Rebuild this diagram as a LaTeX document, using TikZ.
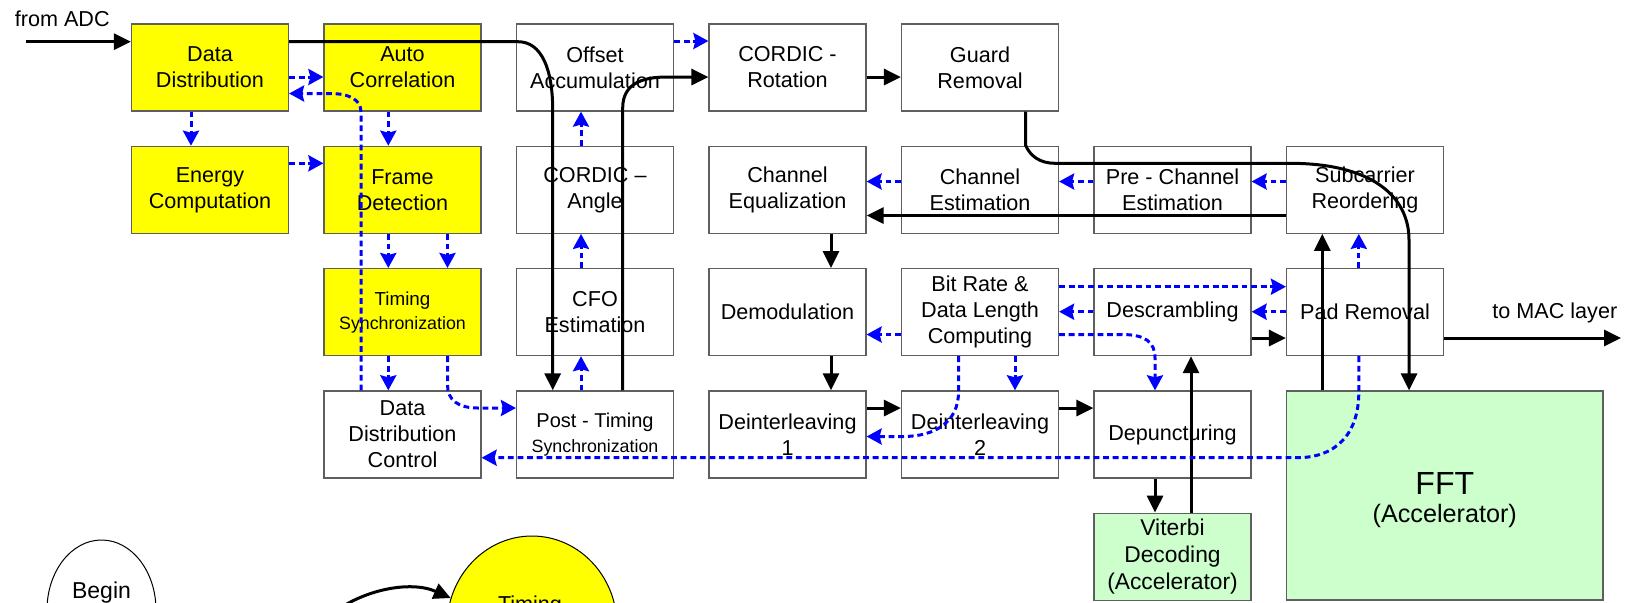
\documentclass[tikz,border=0pt]{standalone}
\usepackage{fontspec}
\setmainfont{Liberation Sans}
\usetikzlibrary{arrows.meta,shapes.geometric}
\definecolor{boxyellow}{RGB}{255,255,0}
\definecolor{accgreen}{RGB}{204,255,204}
\definecolor{flowblue}{RGB}{0,0,255}
\definecolor{edgegray}{RGB}{95,95,95}
\begin{document}
\begin{tikzpicture}[x=0.5pt,y=-0.5pt,
  blk/.style={draw=edgegray, line width=0.6pt, fill=white,
    minimum width=78.5pt, minimum height=43.5pt, inner sep=0pt,
    align=center, font=\fontsize{10.8}{13}\selectfont},
  yel/.style={fill=boxyellow},
  acc/.style={fill=accgreen},
  dataflow/.style={draw=black, line width=1.5pt,
    -{Triangle[length=8.5pt,width=8pt]}},
  ctrlflow/.style={draw=flowblue, line width=1.5pt,
    dash pattern=on 2.9pt off 1.9pt,
    -{Stealth[length=7.5pt,width=8pt,inset=1pt]}},
  lbl/.style={font=\fontsize{10.8}{13}\selectfont, inner sep=0pt}]
\useasboundingbox (0,0) rectangle (1627,602);
\clip (0,0) rectangle (1627,602);

% ---- processing blocks ----
\node[blk,yel] (dd)  at (210,67.5)    {Data\\Distribution};
\node[blk,yel] (ac)  at (402.5,67.5)  {Auto\\Correlation};
\node[blk]     (oa)  at (595,67.5)    {Offset\\Accumulation};
\node[blk]     (cr)  at (787.5,67.5)  {CORDIC -\\Rotation};
\node[blk]     (gr)  at (980,67.5)    {Guard\\Removal};

\node[blk,yel] (ec)  at (210,189.8)   {Energy\\Computation};
\node[blk,yel] (fd)  at (402.5,189.8) {Frame\\Detection};
\node[blk]     (ca)  at (595,189.8)   {CORDIC --\\Angle};
\node[blk]     (ceq) at (787.5,189.8) {Channel\\Equalization};
\node[blk]     (ces) at (980,189.8)   {Channel\\Estimation};
\node[blk]     (pce) at (1172.5,189.8){Pre - Channel\\Estimation};
\node[blk]     (sr)  at (1365,189.8)  {Subcarrier\\Reordering};

\node[blk,yel,font=\fontsize{9.4}{12}\selectfont] (ts) at (402.5,312.1)
  {Timing\\{\fontsize{8.9}{12}\selectfont Synchronization}};
\node[blk]     (cfo) at (595,312.1)   {CFO\\Estimation};
\node[blk]     (dm)  at (787.5,312.1) {Demodulation};
\node[blk]     (br)  at (980,312.1)   {Bit Rate \&\\Data Length\\Computing};
\node[blk]     (ds)  at (1172.5,312.1){Descrambling};
\node[blk]     (pr)  at (1365,312.1)  {Pad Removal};

\node[blk]     (ddc) at (402.5,434.4) {Data\\Distribution\\Control};
\node[blk,font=\fontsize{10}{12.5}\selectfont] (pts) at (595,434.4)
  {Post - Timing\\{\fontsize{8.9}{12.5}\selectfont Synchronization}};
\node[blk]     (di1) at (787.5,434.4) {Deinterleaving\\1};
\node[blk]     (di2) at (980,434.4)   {Deinterleaving\\2};
\node[blk]     (dp)  at (1172.5,434.4){Depuncturing};

\node[blk,acc,font=\fontsize{11.4}{13.4}\selectfont] (vd) at (1172.5,556.7)
  {Viterbi\\Decoding\\(Accelerator)};
\node[blk,acc,minimum width=158.25pt,minimum height=104.5pt] (fft) at (1444.75,495.5) {};
\node[align=center, inner sep=0pt] (fftlbl) at (1444.75,500)
  {{\fontsize{16}{19}\selectfont FFT}\\[2pt]{\fontsize{12.6}{15}\selectfont (Accelerator)}};

% ---- outside labels ----
\node[lbl,anchor=base west] (fromadc) at (14.5,26.5) {from ADC};
\node[lbl,anchor=base west] (tomac) at (1492,318) {to MAC layer};

% ---- routing levels ----
\coordinate (hA) at (0,41.7);
\coordinate (hB) at (0,41);
\coordinate (hC) at (0,77);
\coordinate (hD) at (0,93.5);
\coordinate (hE) at (0,163.3);
\coordinate (hF) at (0,181.5);
\coordinate (hG) at (0,215.5);
\coordinate (hH) at (0,286.7);
\coordinate (hI) at (0,311.7);
\coordinate (hJ) at (0,334.5);
\coordinate (hK) at (0,338);
\coordinate (hL) at (0,408);
\coordinate (hM) at (0,436.5);
\coordinate (hN) at (0,457.7);
\coordinate (vA) at (191,0);
\coordinate (vB) at (361,0);
\coordinate (vC) at (388.3,0);
\coordinate (vD) at (447.5,0);
\coordinate (vE) at (552.7,0);
\coordinate (vF) at (581,0);
\coordinate (vG) at (622.7,0);
\coordinate (vH) at (831,0);
\coordinate (vI) at (958.5,0);
\coordinate (vJ) at (1015,0);
\coordinate (vK) at (1025.5,0);
\coordinate (vM) at (1155,0);
\coordinate (vN) at (1191,0);
\coordinate (vO) at (1322.3,0);
\coordinate (vP) at (1358.8,0);
\coordinate (vQ) at (1409,0);
\coordinate (adcin) at (26,41.7);
\coordinate (macout) at (1621,338);

% ---- data path (solid) ----
\draw[dataflow] (adcin) -- (dd.west |- hA);
\draw[dataflow] (dd.east |- hA) -- (518,41.7)
  .. controls (542,41.7) and (552.7,70) .. (552.7,110) -- (vE |- pts.north);
\draw[dataflow] (vG |- pts.north) -- (622.7,108)
  .. controls (622.7,85) and (640,77) .. (667,77) -- (cr.west |- hC);
\draw[dataflow] (cr.east |- hC) -- (gr.west |- hC);
\draw[dataflow] (vK |- gr.south) -- (1025.5,145)
  .. controls (1030,156) and (1040,163.3) .. (1055,163.3) -- (1290,163.3)
  .. controls (1370,163.3) and (1409,195) .. (1409,240) -- (vQ |- fft.north);
\draw[dataflow] (sr.west |- hG) -- (ceq.east |- hG);
\draw[dataflow] (vH |- ceq.south) -- (vH |- dm.north);
\draw[dataflow] (vH |- dm.south) -- (vH |- di1.north);
\draw[dataflow] (di1.east |- hL) -- (di2.west |- hL);
\draw[dataflow] (di2.east |- hL) -- (dp.west |- hL);
\draw[dataflow] (vM |- dp.south) -- (vM |- vd.north);
\draw[dataflow] (vN |- vd.north) -- (vN |- ds.south);
\draw[dataflow] (ds.east |- hK) -- (pr.west |- hK);
\draw[dataflow] (vO |- fft.north) -- (vO |- sr.south);
\draw[dataflow] (pr.east |- hK) -- (macout);

% ---- control path (dashed) ----
\draw[ctrlflow] (dd.east |- hC) -- (ac.west |- hC);
\draw[ctrlflow] (vB |- ddc.north) -- (361,112)
  .. controls (361,100) and (350,93.5) .. (330,93.5) -- (dd.east |- hD);
\draw[ctrlflow] (vA |- dd.south) -- (vA |- ec.north);
\draw[ctrlflow] (vC |- ac.south) -- (vC |- fd.north);
\draw[ctrlflow] (ec.east |- hE) -- (fd.west |- hE);
\draw[ctrlflow] (vC |- fd.south) -- (vC |- ts.north);
\draw[ctrlflow] (vD |- fd.south) -- (vD |- ts.north);
\draw[ctrlflow] (vC |- ts.south) -- (vC |- ddc.north);
\draw[ctrlflow] (vD |- ts.south) -- (447.5,385)
  .. controls (447.5,400) and (458,408) .. (478,408) -- (pts.west |- hL);
\draw[ctrlflow] (vF |- pts.north) -- (vF |- cfo.south);
\draw[ctrlflow] (vF |- cfo.north) -- (vF |- ca.south);
\draw[ctrlflow] (vF |- ca.north) -- (vF |- oa.south);
\draw[ctrlflow] (oa.east |- hB) -- (cr.west |- hB);
\draw[ctrlflow] (ces.west |- hF) -- (ceq.east |- hF);
\draw[ctrlflow] (pce.west |- hF) -- (ces.east |- hF);
\draw[ctrlflow] (sr.west |- hF) -- (pce.east |- hF);
\draw[ctrlflow] (vP |- pr.north) -- (vP |- sr.south);
\draw[ctrlflow] (br.east |- hH) -- (pr.west |- hH);
\draw[ctrlflow] (ds.west |- hI) -- (br.east |- hI);
\draw[ctrlflow] (pr.west |- hI) -- (ds.east |- hI);
\draw[ctrlflow] (br.west |- hJ) -- (dm.east |- hJ);
\draw[ctrlflow] (vJ |- br.south) -- (vJ |- di2.north);
\draw[ctrlflow] (br.east |- hJ) -- (1122,334.5)
  .. controls (1145,334.5) and (1155,342) .. (1155,358) -- (vM |- dp.north);
\draw[ctrlflow] (vI |- br.south) -- (958.5,392)
  .. controls (958.5,422) and (935,436.5) .. (903,436.5) -- (di1.east |- hM);
\draw[ctrlflow] (vP |- pr.south) -- (1358.8,392)
  .. controls (1358.8,435) and (1335,457.7) .. (1297,457.7) -- (ddc.east |- hN);

% ---- state diagram fragment ----
\node[ellipse, draw=black, line width=0.5pt, fill=white, inner sep=0pt,
  minimum width=54.5pt, minimum height=70pt] (begin) at (101.5,610) {};
\node[lbl,anchor=base,font=\fontsize{11.5}{13}\selectfont] (begintxt) at (101.5,598) {Begin};
\node[ellipse, draw=black, line width=0.5pt, fill=boxyellow, inner sep=0pt,
  minimum width=85pt, minimum height=90pt] (timing) at (532,626) {};
\node[lbl,anchor=base] (timingtxt) at (530,611) {Timing};
\coordinate (loopin) at (332,614);
\draw[dataflow] (loopin) .. controls (362,590) and (410,580) .. (timing.161);
\end{tikzpicture}
\end{document}
